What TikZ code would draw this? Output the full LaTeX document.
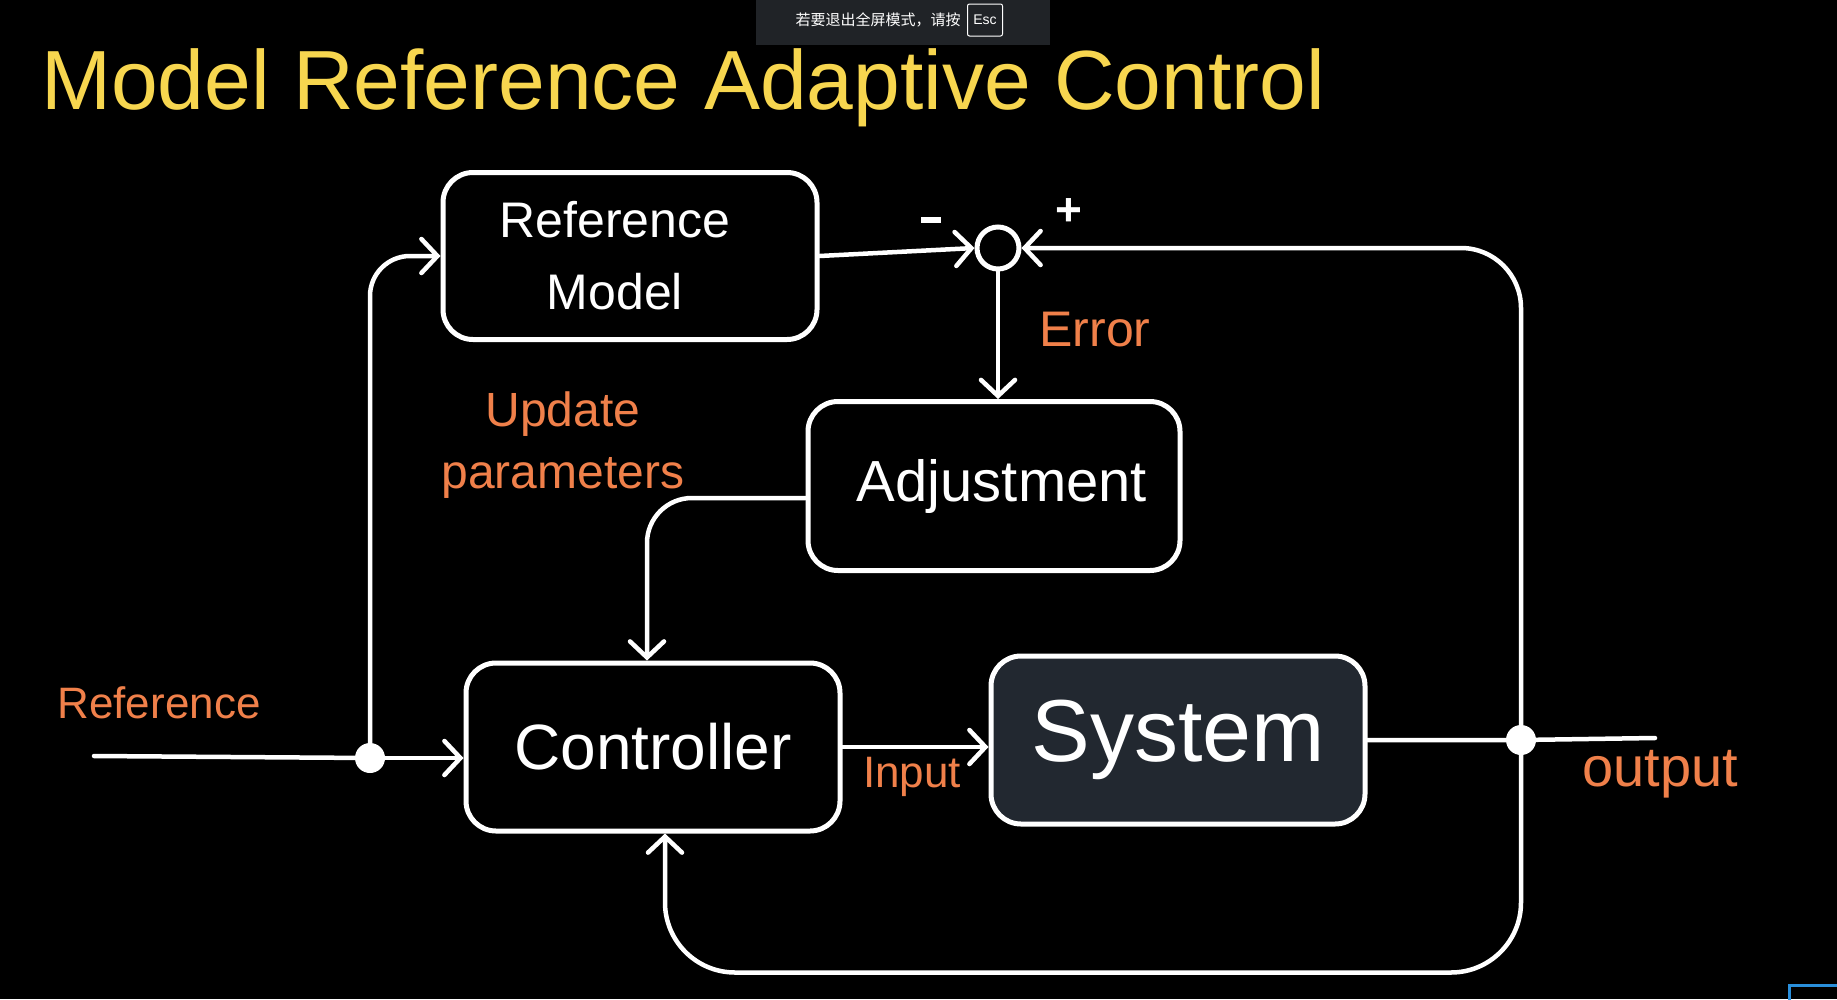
\documentclass[tikz,border=0pt]{standalone}
\usepackage{fontspec}
\setmainfont{Liberation Sans}
\newfontfamily\cjk{Noto Sans CJK SC}
\usetikzlibrary{arrows.meta,calc}
\definecolor{titleyellow}{HTML}{F7D64F}
\definecolor{lblorange}{HTML}{F0804A}
\definecolor{sysfill}{HTML}{222830}
\definecolor{bannerbg}{HTML}{202327}
\definecolor{winblue}{HTML}{2A8FDB}
\newcommand{\fsz}[1]{\fontsize{#1}{#1}\selectfont}
\begin{document}
\begin{tikzpicture}[x=1pt,y=-1pt,
  blk/.style={draw=white, line width=5pt, rounded corners=30pt, text=white, inner sep=0pt},
  conn/.style={draw=white, line width=4.5pt, line cap=round},
  arr/.style={conn, -{Straight Barb[length=16pt,width=34pt,line cap=round]}},
  lbl/.style={text=lblorange, inner sep=0pt},
  dot/.style={circle, fill=white, inner sep=0pt, minimum size=30pt},
  sign/.style={text=white, inner sep=0pt},
]
% background and bounding box
\fill[black] (0,0) rectangle (1837,999);
\useasboundingbox (0,0) rectangle (1837,999);

% fullscreen banner
\fill[bannerbg] (756,0) rectangle (1050,45);
\node[text=white, inner sep=0pt, font=\cjk\fsz{15}] (bannertext) at (878,20) {若要退出全屏模式，请按};
\node[draw=white, line width=1pt, rounded corners=2pt, minimum width=35pt, minimum height=32pt, inner sep=0pt, text=white, font=\fsz{14}] (esc) at (985,20) {Esc};

% window corner
\draw[winblue, line width=3pt] (1789,1002) -- (1789,985.5) -- (1840,985.5);

% title
\node[anchor=base west, text=titleyellow, inner sep=0pt, font=\fsz{84}] (title) at (41,109) {Model Reference Adaptive Control};

% blocks
\node[blk, minimum width=374pt, minimum height=167pt, align=center, font=\fsz{50}] (refm) at (630,256)
  {Reference\hspace*{30pt}\\[22pt]Model\hspace*{30pt}};
\node[blk, minimum width=372pt, minimum height=169pt, font=\fsz{58}] (adjust) at (994,486) {\hspace*{16pt}Adjustment};
\node[blk, minimum width=374pt, minimum height=168pt, font=\fsz{64}] (ctrl) at (653,747) {Controller};
\node[blk, fill=sysfill, minimum width=374pt, minimum height=168pt, font=\fsz{88}] (sys) at (1178,740) {System};

% summing junction and branch points
\node[circle, draw=white, line width=5pt, minimum size=42pt, inner sep=0pt] (sum) at (998,248) {};
\node[dot] (split1) at (370,758) {};
\node[dot] (split2) at (1521,740) {};
\coordinate (in) at (94,756);
\coordinate (out) at (1655,738);
\coordinate (bot) at ($(ctrl.south)+(12,139)$);

% signs
\node[sign] (minus) at (931,220) {\rule{20pt}{6pt}};
\node[sign, font=\bfseries\fsz{46}] (plus) at (1069,212) {+};

% connectors
\draw[conn] (in) -- (split1);
\draw[arr] (split1) -- (split1 -| ctrl.west);
\draw[arr, rounded corners=40pt] (split1) |- (refm.west);
\draw[arr] (refm.east) -- (sum.west);
\draw[arr] (sum.south) -- (adjust.north -| sum.south);
\draw[arr, rounded corners=45pt] ([yshift=-12pt]adjust.west) -| ([xshift=-6pt]ctrl.north);
\draw[arr] (ctrl.east) -- (ctrl.east -| sys.west);
\draw[conn] (sys.east) -- (split2) -- (out);
\draw[arr, rounded corners=60pt] (split2) |- (sum.east);
\draw[arr, rounded corners=70pt] (split2) |- (bot) -- ([xshift=12pt]ctrl.south);

% labels
\node[lbl, font=\fsz{44}] (lblref) at (159,703) {Reference};
\node[lbl, font=\fsz{48}, align=center] (lblupd) at (563,445) {Update\\[14pt]parameters};
\node[lbl, font=\fsz{50}] (lblerr) at (1095,330) {Error};
\node[lbl, font=\fsz{44}] (lblin) at (912,777) {Input};
\node[lbl, font=\fsz{56}] (lblout) at (1660,774) {output};
\end{tikzpicture}
\end{document}
